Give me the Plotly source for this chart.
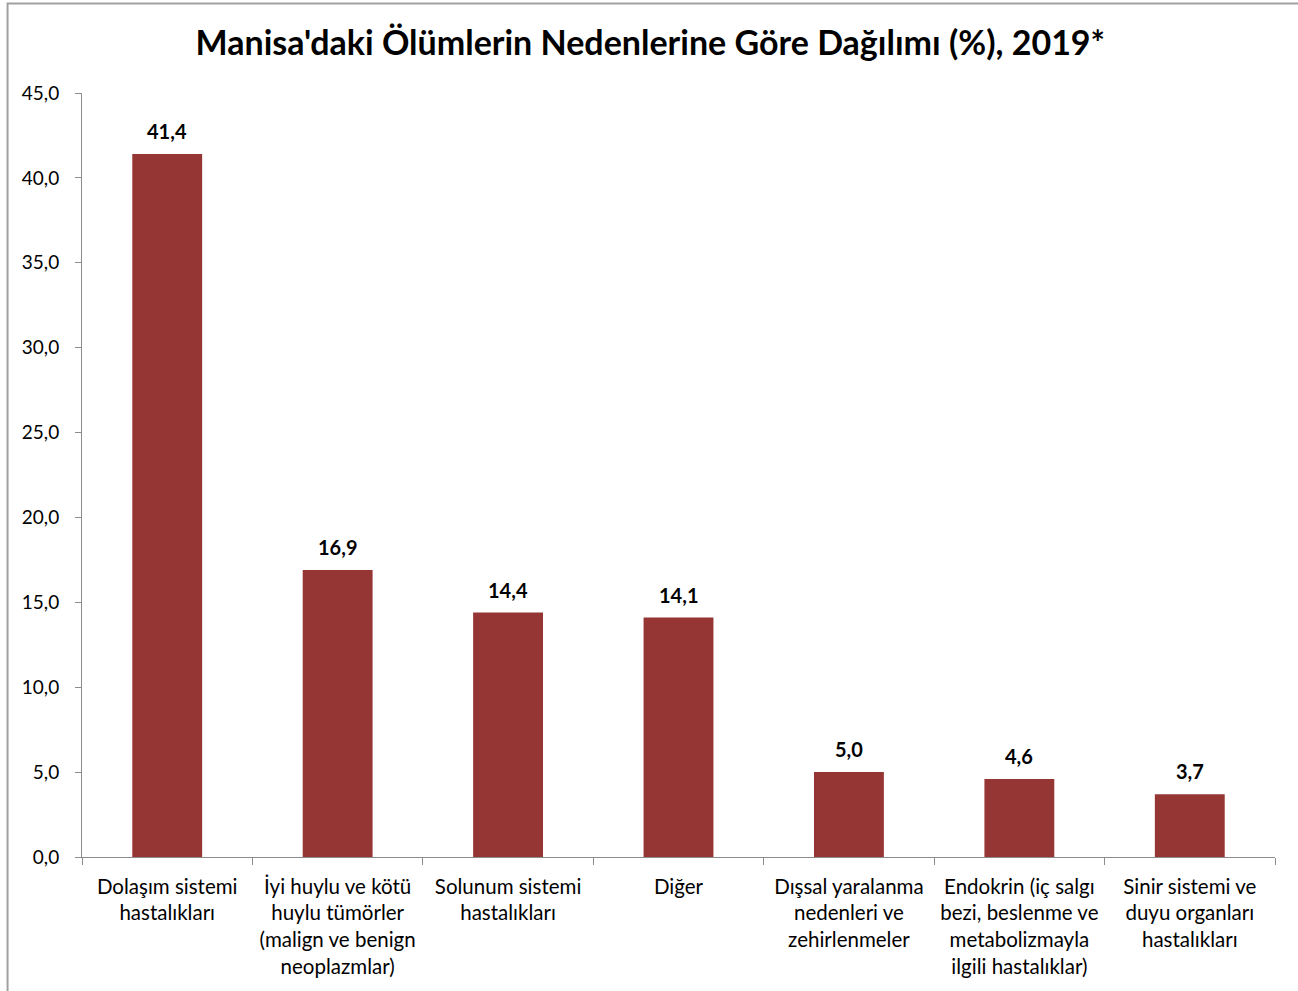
import plotly.graph_objects as go

# kategoriler ve yüzdeler
kategoriler = [
    "Dolaşım sistemi<br>hastalıkları",
    "İyi huylu ve kötü<br>huylu tümörler<br>(malign ve benign<br>neoplazmlar)",
    "Solunum sistemi<br>hastalıkları",
    "Diğer",
    "Dışsal yaralanma<br>nedenleri ve<br>zehirlenmeler",
    "Endokrin (iç salgı<br>bezi, beslenme ve<br>metabolizmayla<br>ilgili hastalıklar)",
    "Sinir sistemi ve<br>duyu organları<br>hastalıkları",
]
yuzdeler = [41.4, 16.9, 14.4, 14.1, 5.0, 4.6, 3.7]
y_ticks = [0, 5, 10, 15, 20, 25, 30, 35, 40, 45]

FONT = "Lato"
BAR_RENK = "#963634"
EKSEN_RENK = "#8c8c8c"

fig = go.Figure()
fig.add_trace(go.Bar(
    x=kategoriler,
    y=yuzdeler,
    marker=dict(color=BAR_RENK, line=dict(width=0)),
    width=0.41,
))

# değer etiketleri
for k, v in zip(kategoriler, yuzdeler):
    fig.add_annotation(
        x=k, y=v, text="<b>" + f"{v:.1f}".replace(".", ",") + "</b>",
        showarrow=False, yanchor="bottom", yshift=9,
        font=dict(family=FONT, size=20, color="black"),
    )

# dış çerçeve (grafik kırpılmış)
fig.add_shape(type="rect", xref="paper", yref="paper",
              x0=-0.0624, x1=1.2, y0=-0.5, y1=1.1171,
              line=dict(color="#a0a0a0", width=2), fillcolor="rgba(0,0,0,0)")

fig.update_layout(
    width=1298, height=991,
    margin=dict(l=82, r=23, t=93, b=134),
    paper_bgcolor="white", plot_bgcolor="white",
    separators=",.",
    showlegend=False,
    title=dict(
        text="<b>Manisa'daki Ölümlerin Nedenlerine Göre Dağılımı (%), 2019*</b>",
        x=0.501, xanchor="center", y=0.9566, yanchor="middle",
        font=dict(family=FONT, size=34, color="black"),
    ),
    font=dict(family=FONT, size=20, color="black"),
)

fig.update_yaxes(
    range=[0, 45], tickvals=y_ticks, tickformat=".1f",
    showgrid=False, zeroline=False,
    showline=True, linecolor=EKSEN_RENK, linewidth=1,
    ticks="outside", ticklen=6, tickcolor=EKSEN_RENK,
    ticklabelstandoff=12,
    tickfont=dict(family=FONT, size=19, color="black"),
)
fig.update_xaxes(
    showgrid=False, showline=True, linecolor=EKSEN_RENK, linewidth=1,
    ticks="outside", ticklen=7, tickcolor=EKSEN_RENK, tickson="boundaries",
    tickangle=0, ticklabelstandoff=11,
    tickfont=dict(family=FONT, size=20.5, color="black"),
)

fig.write_html("out.html", config={"displayModeBar": False},
               post_script="document.body.style.margin='0';")
